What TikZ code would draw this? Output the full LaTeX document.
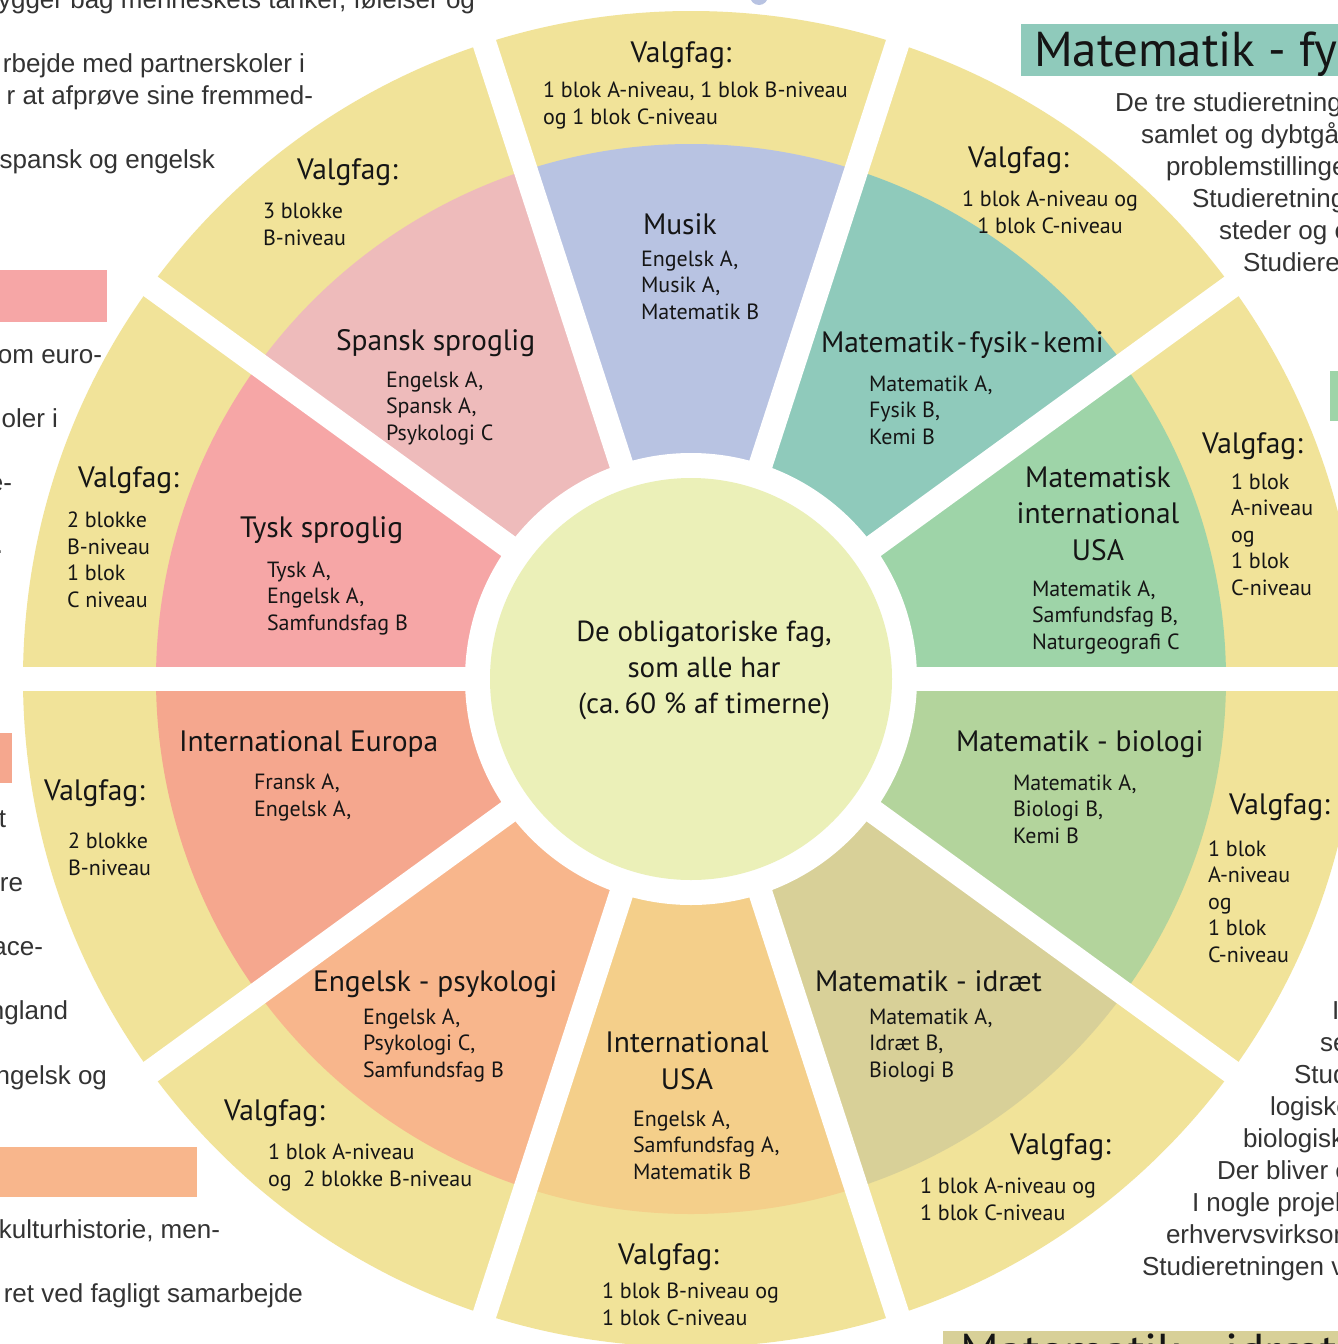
\documentclass[tikz,border=0pt]{standalone}
\usepackage{fontspec}
\setmainfont{PT Sans}
\newfontfamily\pagefont{Liberation Sans}
\usetikzlibrary{positioning}
\definecolor{cvalg}{HTML}{F1E399}
\definecolor{ccore}{HTML}{EBF0B8}
\definecolor{cmusik}{HTML}{B8C3E2}
\definecolor{cmfk}{HTML}{8FCABB}
\definecolor{cmiu}{HTML}{9ED4A8}
\definecolor{cmb}{HTML}{B3D49C}
\definecolor{cmi}{HTML}{D8D098}
\definecolor{ciusa}{HTML}{F4CF8A}
\definecolor{cep}{HTML}{F8B68C}
\definecolor{cie}{HTML}{F5A78E}
\definecolor{cts}{HTML}{F6A6A6}
\definecolor{css}{HTML}{EEBBBB}
\definecolor{cink}{HTML}{151515}
\definecolor{cpage}{HTML}{333333}
\tikzset{
  every node/.style={inner sep=0pt, outer sep=0pt, text=cink},
  head/.style={font=\fontsize{29.5}{36.5}\selectfont},
  body/.style={font=\fontsize{22}{26.5}\selectfont, align=left},
  corefont/.style={font=\fontsize{29}{36}\selectfont, align=center},
  page/.style={font=\pagefont\fontsize{26}{32}\selectfont, text=cpage},
  banner/.style={font=\fontsize{49}{52}\selectfont},
}
\newcommand\dash{\hspace{2.5pt}-\hspace{2.5pt}}

\begin{document}
\begin{tikzpicture}[x=1pt, y=-1pt]
  \useasboundingbox (0,0) rectangle (1338,1344);
  \clip (0,0) rectangle (1338,1344);
  \fill[white] (0,0) rectangle (1338,1344);
  % the wheel
  \begin{scope}[shift={(691,679)}]
    \fill[cvalg] (0,0) circle[radius=668];
    \foreach \a/\c in {270/cmusik, 306/cmfk, 342/cmiu, 18/cmb, 54/cmi,
                       90/ciusa, 126/cep, 162/cie, 198/cts, 234/css} {
      \fill[\c] (0,0) -- (\a-18:535) arc[start angle=\a-18, end angle=\a+18, radius=535] -- cycle;
    }
    \foreach \a in {0,36,...,324}
      \draw[white, line width=24pt] (0,0) -- (\a:676);
    \fill[white] (0,0) circle[radius=226];
    \node[circle, fill=ccore, minimum size=402pt] (core) at (0,0) {};
  \end{scope}
  \node[corefont, anchor=base] (core-txt) at (704,713)
    {De obligatoriske fag,\\som alle har\\(ca.\,60 \% af timerne)};

  % valgfag, outer ring (base = last line)
  \node[head, anchor=base] (v1) at (681,62) {Valgfag:};
  \node[body, anchor=base west] (v1b) at (543,124) {1 blok A-niveau, 1 blok B-niveau\\og 1 blok C-niveau};
  \node[head, anchor=base west] (v2) at (968,167) {Valgfag:};
  \node[body, align=center, anchor=base] (v2b) at (1050,233) {1 blok A-niveau og\\1 blok C-niveau};
  \node[head, anchor=base west] (v3) at (1202,453) {Valgfag:};
  \node[body, anchor=base west] (v3b) at (1231,595) {1 blok\\A-niveau\\og\\1 blok\\C-niveau};
  \node[head, anchor=base west] (v4) at (1229,814) {Valgfag:};
  \node[body, anchor=base west] (v4b) at (1208,962) {1 blok\\A-niveau\\og\\1 blok\\C-niveau};
  \node[head, anchor=base west] (v5) at (1010,1154) {Valgfag:};
  \node[body, anchor=base west] (v5b) at (920,1220) {1 blok A-niveau og\\1 blok C-niveau};
  \node[head, anchor=base west] (v6) at (618,1264) {Valgfag:};
  \node[body, anchor=base west] (v6b) at (602,1325) {1 blok B-niveau og\\1 blok C-niveau};
  \node[head, anchor=base west] (v7) at (224,1120) {Valgfag:};
  \node[body, anchor=base west] (v7b) at (268,1186) {1 blok A-niveau\\og\ \ 2 blokke B-niveau};
  \node[head, anchor=base west] (v8) at (44,800) {Valgfag:};
  \node[body, anchor=base west] (v8b) at (68,875) {2 blokke\\B-niveau};
  \node[head, anchor=base west] (v9) at (78,487) {Valgfag:};
  \node[body, anchor=base west] (v9b) at (67,607) {2 blokke\\B-niveau\\1 blok\\C niveau};
  \node[head, anchor=base west] (v10) at (297,179) {Valgfag:};
  \node[body, anchor=base west] (v10b) at (263,245) {3 blokke\\B-niveau};

  % studieretninger, inner ring
  \node[head, anchor=base west] (musik) at (643,234) {Musik};
  \node[body, anchor=base west] (musik-b) at (641,319) {Engelsk A,\\Musik A,\\Matematik B};
  \node[head, anchor=base west] (mfk) at (821,352) {Matematik\dash fysik\dash kemi};
  \node[body, anchor=base west] (mfk-b) at (869,444) {Matematik A,\\Fysik B,\\Kemi B};
  \node[head, align=center, anchor=base] (miu) at (1098,560) {Matematisk\\international\\USA};
  \node[body, anchor=base west] (miu-b) at (1032,649) {Matematik A,\\Samfundsfag B,\\Naturgeografi C};
  \node[head, anchor=base west] (mb) at (956,751) {Matematik - biologi};
  \node[body, anchor=base west] (mb-b) at (1013,843) {Matematik A,\\Biologi B,\\Kemi B};
  \node[head, anchor=base west] (mi) at (815,991) {Matematik - idræt};
  \node[body, anchor=base west] (mi-b) at (869,1077) {Matematik A,\\Idræt B,\\Biologi B};
  \node[head, align=center, anchor=base] (iusa) at (687,1089) {International\\USA};
  \node[body, anchor=base west] (iusa-b) at (633,1179) {Engelsk A,\\Samfundsfag A,\\Matematik B};
  \node[head, anchor=base west] (ep) at (313,991) {Engelsk - psykologi};
  \node[body, anchor=base west] (ep-b) at (363,1077) {Engelsk A,\\Psykologi C,\\Samfundsfag B};
  \node[head, anchor=base west] (ie) at (179,751) {International Europa};
  \node[body, anchor=base west] (ie-b) at (254,816) {Fransk A,\\Engelsk A,};
  \node[head, anchor=base west] (ts) at (240,537) {Tysk sproglig};
  \node[body, anchor=base west] (ts-b) at (267,630) {Tysk A,\\Engelsk A,\\Samfundsfag B};
  \node[head, anchor=base west] (ss) at (336,350) {Spansk sproglig};
  \node[body, anchor=base west] (ss-b) at (386,440) {Engelsk A,\\Spansk A,\\Psykologi C};

  % page round the wheel
  \fill[cts] (-5,270) rectangle (107,322);
  \fill[cie] (-5,733) rectangle (12,783);
  \fill[cep] (-5,1147) rectangle (197,1197);
  \fill[cmiu] (1330,371) rectangle (1345,421);
  \fill[cmfk] (1021,24) rectangle (1345,76);
  \fill[cmi] (943,1331) rectangle (1345,1350);
  \fill[cmusik] (759,-4) circle[radius=9];
  \node[banner, anchor=base west] (ban-mfk) at (1034,66) {Matematik - fysik - kemi};
  \node[banner, anchor=base west] (ban-mi) at (960,1368) {Matematik - idræt};
  \foreach \x/\y/\t [count=\i] in {475/8/{ygger bag menneskets tanker, følelser og},
      305/72/{rbejde med partnerskoler i}, 313/104/{r at afprøve sine fremmed-},
      215/168/{spansk og engelsk}, 102/363/{om euro-}, 58/427/{oler i},
      12/491/{e-}, 3/553/{.}, 6/827/{t}, 23/891/{re}, 43/955/{ace-},
      68/1019/{ngland}, 107/1084/{ngelsk og}, 220/1238/{kulturhistorie, men-},
      303/1302/{ret ved fagligt samarbejde}}
    \node[page, anchor=base east] (lt\i) at (\x,\y) {\t};
  \foreach \x/\y/\t [count=\i] in {1115/111/{De tre studieretninger},
      1141/143/{samlet og dybtgående}, 1166/175/{problemstillinger},
      1192/207/{Studieretningen}, 1219/239/{steder og e}, 1243/271/{Studieretningen},
      1332/1019/{I}, 1320/1051/{se}, 1294/1083/{Studie}, 1270/1115/{logiske},
      1243/1147/{biologiske}, 1217/1179/{Der bliver en}, 1192/1211/{I nogle projekter},
      1166/1243/{erhvervsvirksomheder}, 1142/1275/{Studieretningen ved}}
    \node[page, anchor=base west] (rt\i) at (\x,\y) {\t};
\end{tikzpicture}
\end{document}
